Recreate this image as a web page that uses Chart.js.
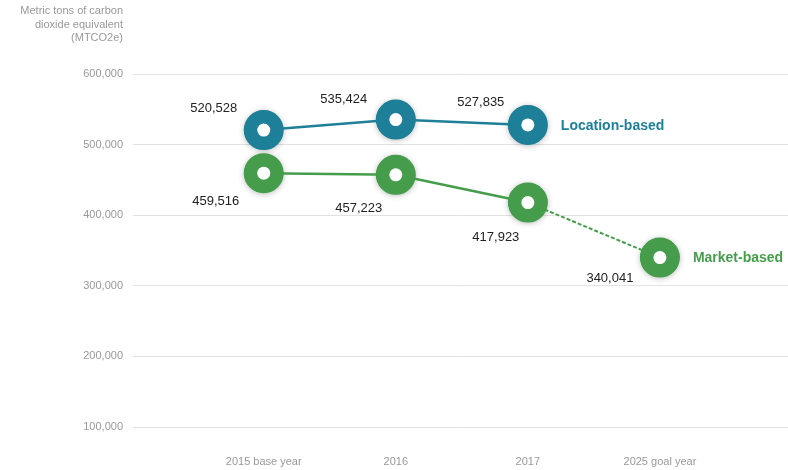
<!DOCTYPE html>
<html>
<head>
<meta charset="utf-8">
<script src="https://cdn.jsdelivr.net/npm/chart.js@4"></script>
<style>
  html, body { margin: 0; padding: 0; background: #fff; overflow: hidden; }
  canvas { display: block; }
</style>
</head>
<body>
<canvas id="c" width="788" height="470"></canvas>
<script>
// Emissions by year, metric tons CO2e
const categories = ['2015 base year', '2016', '2017', '2025 goal year'];
const locationBased = [520528, 535424, 527835, null];
const marketBased = [459516, 457223, 417923, 340041];
const yTicks = [100000, 200000, 300000, 400000, 500000, 600000];
const seriesNames = ['Location-based', 'Market-based'];
const axisTitle = ['Metric tons of carbon', 'dioxide equivalent', '(MTCO2e)'];

const TEAL = '#1e7f98';
const GREEN = '#459d4c';
const FONT = "'Liberation Sans', Arial, sans-serif";

// label offsets (px) from each marker centre
const labelOffsets = [
  [[-50, -22], [-52, -20], [-47, -23], null],
  [[-48, 28], [-37, 34], [-32, 35], [-50, 21]]
];

const toXY = arr => arr.map((v, i) => (v === null ? null : { x: i, y: v })).filter(p => p);
const fmt = v => v.toLocaleString('en-US');

// soft shadow behind each marker
const markerShadow = {
  id: 'markerShadow',
  beforeDatasetsDraw(chart) {
    const ctx = chart.ctx;
    chart.data.datasets.forEach((ds, di) => {
      const meta = chart.getDatasetMeta(di);
      meta.data.forEach(pt => {
        ctx.save();
        ctx.shadowColor = 'rgba(0,0,0,0.3)';
        ctx.shadowBlur = 6;
        ctx.shadowOffsetY = 1;
        ctx.fillStyle = ds.borderColor;
        ctx.beginPath();
        ctx.arc(pt.x, pt.y, 19.5, 0, Math.PI * 2);
        ctx.fill();
        ctx.restore();
      });
    });
  }
};

// value labels, series names and the axis caption
const annotations = {
  id: 'annotations',
  afterDatasetsDraw(chart) {
    const ctx = chart.ctx;
    ctx.save();
    ctx.textBaseline = 'middle';
    chart.data.datasets.forEach((ds, di) => {
      const meta = chart.getDatasetMeta(di);
      meta.data.forEach((pt, i) => {
        const off = labelOffsets[di][i];
        if (!off) return;
        ctx.font = '13px ' + FONT;
        ctx.fillStyle = '#222';
        ctx.textAlign = 'center';
        ctx.fillText(fmt(ds.data[i].y), pt.x + off[0], pt.y + off[1]);
      });
      const last = meta.data[meta.data.length - 1];
      ctx.font = 'bold 14px ' + FONT;
      ctx.fillStyle = ds.borderColor;
      ctx.textAlign = 'left';
      ctx.fillText(seriesNames[di], last.x + 33, last.y + 1);
    });
    ctx.font = '11px ' + FONT;
    ctx.fillStyle = '#999';
    ctx.textAlign = 'right';
    axisTitle.forEach((line, i) => ctx.fillText(line, 123, 11 + i * 13.5));
    ctx.restore();
  }
};

const pointStyle = color => ({
  borderColor: color,
  pointBackgroundColor: '#fff',
  pointBorderColor: color,
  pointRadius: 13.25,
  pointBorderWidth: 13.5,
  pointHoverRadius: 13.25,
  borderWidth: 2.5,
  tension: 0,
  fill: false
});

new Chart(document.getElementById('c'), {
  type: 'line',
  data: {
    datasets: [
      Object.assign({ label: seriesNames[0], data: toXY(locationBased) }, pointStyle(TEAL)),
      Object.assign({
        label: seriesNames[1],
        data: toXY(marketBased),
        segment: {
          borderDash: c => (c.p1DataIndex === 3 ? [4, 2] : undefined),
          borderWidth: c => (c.p1DataIndex === 3 ? 2 : undefined)
        }
      }, pointStyle(GREEN))
    ]
  },
  options: {
    responsive: false,
    animation: false,
    events: [],
    layout: { autoPadding: false, padding: { top: 74, right: 0, bottom: 0, left: 0 } },
    plugins: { legend: { display: false }, tooltip: { enabled: false } },
    scales: {
      x: {
        type: 'linear',
        min: -0.99,
        max: 3.97,
        grid: { display: false, drawTicks: false },
        border: { display: false },
        afterBuildTicks: s => { s.ticks = categories.map((c, i) => ({ value: i })); },
        afterFit: s => { s.height = 43; s.paddingLeft = 0; s.paddingRight = 0; },
        ticks: {
          padding: 28,
          autoSkip: false,
          maxRotation: 0,
          color: '#999',
          font: { family: FONT, size: 11 },
          callback: v => categories[v]
        }
      },
      y: {
        min: 100000,
        max: 600000,
        afterBuildTicks: s => { s.ticks = yTicks.map(v => ({ value: v })); },
        afterFit: s => { s.width = 133; s.paddingTop = 0; s.paddingBottom = 0; },
        grid: { color: '#e2e2e2', lineWidth: 1, drawTicks: false },
        border: { display: false },
        ticks: {
          padding: 10,
          color: '#999',
          font: { family: FONT, size: 11 },
          callback: v => fmt(v)
        }
      }
    }
  },
  plugins: [markerShadow, annotations]
});
</script>
</body>
</html>
